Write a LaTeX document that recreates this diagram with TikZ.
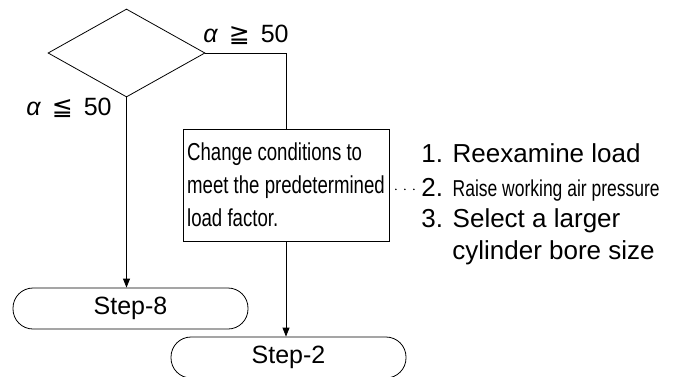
\documentclass[tikz,border=0pt]{standalone}
\usepackage{fontspec}
\setmainfont{Liberation Sans}
\newfontfamily\narrowfont[FakeStretch=0.76]{Liberation Sans}
\newfontfamily\symfont{DejaVu Sans}
\usetikzlibrary{shapes.geometric,arrows.meta}
\begin{document}
\begin{tikzpicture}[x=1pt, y=-1pt, line width=0.8pt,
        every node/.style={font=\fontsize{25}{30}\selectfont, inner sep=0pt},
        listitem/.style={anchor=base west, font=\fontsize{26}{30}\selectfont},
        decision/.style={draw, diamond, minimum width=157pt, minimum height=88pt},
        condbox/.style={draw, minimum width=206pt, minimum height=112pt, align=left, font=\narrowfont\fontsize{24.5}{33}\selectfont},
        terminal/.style={draw, rounded corners=20pt, minimum width=235pt, minimum height=41pt},
        arr/.style={-{Triangle[length=9pt,width=7pt]}},
        dotline/.style={line width=1.8pt, line cap=round, dash pattern=on 0pt off 9pt, shorten <=6.5pt, shorten >=6pt}]

        \useasboundingbox (0,0) rectangle (680,376);

        \node[decision] (dec)    at (126.5,53)  {};
        \node[condbox]  (change) at (286,185)   {Change conditions to\\meet the predetermined\\load factor.};
        \node[terminal] (step8)  at (130.5,308.5) {Step-8};
        \node[terminal] (step2)  at (288.5,357.5) {Step-2};

        \node (ge) at (246,35)  {{\itshape α}\, {\symfont ≧}\, 50};
        \node (le) at (69,108)  {{\itshape α}\, {\symfont ≦}\, 50};

        \node[listitem] (item1)  at (421,162) {1. Reexamine load};
        \node[listitem] (item2)  at (421,196) {2. {\narrowfont\fontsize{23}{26}\selectfont Raise working air pressure}};
        \node[listitem] (item3)  at (421,227) {3. Select a larger};
        \node[listitem] (item3b) at (452,259) {cylinder bore size};

        \draw (dec.east) -| (change.north);
        \draw[arr] (dec.south) -- (dec.south |- step8.north);
        \draw[arr] (change.south) -- (change.south |- step2.north);
        \draw[dotline] (change.east |- item2.west) -- (item2.west);

    \end{tikzpicture}
\end{document}
